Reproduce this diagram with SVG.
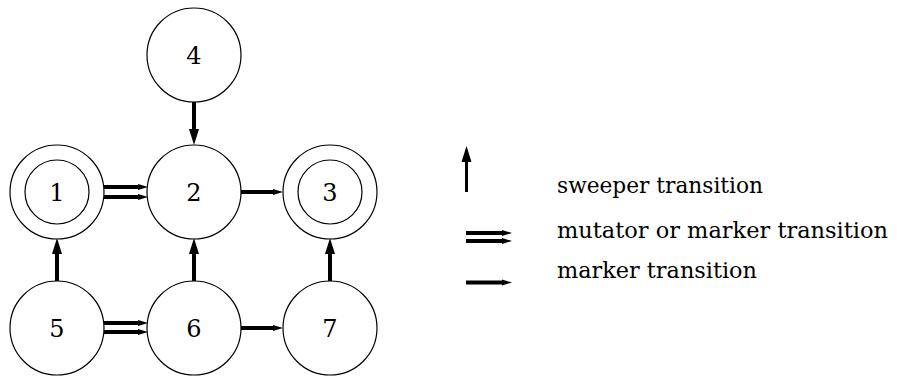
<svg xmlns="http://www.w3.org/2000/svg" width="897" height="379" viewBox="0 0 897 379">
  <style>
    .ring { fill: none; stroke: #000; stroke-width: 1.2; }
    .lbl { font-family: 'DejaVu Serif', 'Liberation Serif', serif; font-size: 24px; fill: #000; }
    .key { font-size: 22px; }
    .num { text-anchor: middle; }
    .edge { stroke: #000; stroke-width: 4; fill: none; stroke-linecap: butt; }
    .thin { stroke: #000; stroke-width: 3; fill: none; }
  </style>
  <defs>
    <!-- large head for sweeper transitions -->
    <marker id="sweep" markerUnits="userSpaceOnUse" markerWidth="16" markerHeight="12" refX="0" refY="6" orient="auto" overflow="visible">
      <path d="M0,1 L16,6 L0,11 z" fill="#000"/>
    </marker>
    <!-- small head for marker / mutator transitions -->
    <marker id="mark" markerUnits="userSpaceOnUse" markerWidth="12" markerHeight="10" refX="0" refY="5" orient="auto" overflow="visible">
      <path d="M0,2 L10,5 L0,8 z" fill="#000"/>
    </marker>
  </defs>

  <!-- states -->
  <g id="node-4">
    <circle class="ring" cx="194" cy="55" r="47"/>
    <text class="lbl num" x="194" y="64">4</text>
  </g>
  <g id="node-1">
    <circle class="ring" cx="57" cy="192" r="47"/>
    <circle class="ring" cx="57" cy="192" r="32"/>
    <text class="lbl num" x="57" y="201">1</text>
  </g>
  <g id="node-2">
    <circle class="ring" cx="194" cy="192" r="47"/>
    <text class="lbl num" x="194" y="201">2</text>
  </g>
  <g id="node-3">
    <circle class="ring" cx="330" cy="192" r="47"/>
    <circle class="ring" cx="330" cy="192" r="32"/>
    <text class="lbl num" x="330" y="201">3</text>
  </g>
  <g id="node-5">
    <circle class="ring" cx="57" cy="328" r="47"/>
    <text class="lbl num" x="57" y="337">5</text>
  </g>
  <g id="node-6">
    <circle class="ring" cx="194" cy="328" r="47"/>
    <text class="lbl num" x="194" y="337">6</text>
  </g>
  <g id="node-7">
    <circle class="ring" cx="330" cy="328" r="47"/>
    <text class="lbl num" x="330" y="337">7</text>
  </g>

  <!-- transitions -->
  <g id="connectors">
    <!-- sweeper -->
    <line class="edge" x1="194" y1="102" x2="194" y2="129" marker-end="url(#sweep)"/>
    <line class="edge" x1="57" y1="281" x2="57" y2="254" marker-end="url(#sweep)"/>
    <line class="edge" x1="194" y1="281" x2="194" y2="254" marker-end="url(#sweep)"/>
    <line class="edge" x1="330" y1="281" x2="330" y2="254" marker-end="url(#sweep)"/>
    <!-- mutator or marker -->
    <line class="edge" x1="104" y1="187" x2="138" y2="187" marker-end="url(#mark)"/>
    <line class="edge" x1="104" y1="197" x2="138" y2="197" marker-end="url(#mark)"/>
    <line class="edge" x1="104" y1="323" x2="138" y2="323" marker-end="url(#mark)"/>
    <line class="edge" x1="104" y1="332" x2="138" y2="332" marker-end="url(#mark)"/>
    <!-- marker -->
    <line class="edge" x1="241" y1="192" x2="273" y2="192" marker-end="url(#mark)"/>
    <line class="edge" x1="241" y1="328" x2="273" y2="328" marker-end="url(#mark)"/>
  </g>

  <!-- legend -->
  <g id="legend">
    <line class="thin" x1="466.5" y1="192" x2="466.5" y2="162" marker-end="url(#sweep)"/>
    <line class="edge" x1="466" y1="233" x2="502" y2="233" marker-end="url(#mark)"/>
    <line class="edge" x1="466" y1="241" x2="502" y2="241" marker-end="url(#mark)"/>
    <line class="edge" x1="466" y1="282.5" x2="502" y2="282.5" marker-end="url(#mark)"/>
    <text class="lbl key" x="557" y="193" textLength="206" lengthAdjust="spacingAndGlyphs">sweeper transition</text>
    <text class="lbl key" x="557" y="238" textLength="331" lengthAdjust="spacingAndGlyphs">mutator or marker transition</text>
    <text class="lbl key" x="557" y="278" textLength="200" lengthAdjust="spacingAndGlyphs">marker transition</text>
  </g>
</svg>
